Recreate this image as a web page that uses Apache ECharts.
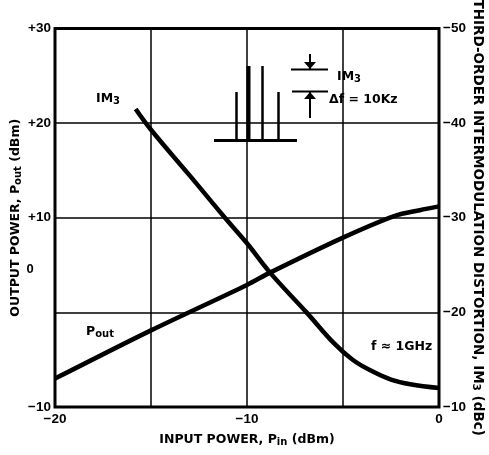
<!DOCTYPE html>
<html><head><meta charset="utf-8">
<script src="https://cdn.jsdelivr.net/npm/echarts@6/dist/echarts.min.js"></script>
<style>html,body{margin:0;padding:0;background:#fff}#c{width:489px;height:455px}</style>
</head><body><div id="c"></div>
<script>
// Input power Pin (dBm) and Pout (dBm), left axis
const poutPin = [-20, -15, -10, -8.8, -5, -2.3, -1, 0];
const poutVal = [-7.0, -1.9, 2.9, 4.2, 7.9, 10.2, 10.8, 11.2];
// IM3 (dBc), right axis (inverted)
const im3Pin = [-15.8, -15, -13, -11.15, -10, -8.8, -6.9, -5.5, -4.5, -3.5, -2.5, -1.5, 0];
const im3Val = [-41.5, -39.3, -34.5, -30, -27.3, -24.2, -20, -16.8, -15.0, -13.8, -12.9, -12.4, -12.0];
const xTicks = [-20, -10, 0];
const leftTicks = [-10, 0, 10, 20, 30];
const rightTicks = [-50, -40, -30, -20, -10];

const FONT = 'Liberation Sans';
const NFONT = 'DejaVu Sans';
const neg = v => (v < 0 ? '\u2212' + Math.abs(v) : String(v));
const chart = echarts.init(document.getElementById('c'), null, {renderer: 'canvas'});
const labelStyle = {color: '#000', fontFamily: FONT, fontWeight: 'bold', fontSize: 13.5};
const subRich = {
  b: {fontFamily: NFONT, fontWeight: 'bold', fontSize: 12.5, color: '#000'},
  s: {fontFamily: NFONT, fontWeight: 'bold', fontSize: 10, color: '#000', verticalAlign: 'bottom', padding: [4, 0, 0, 0]}
};
const rightRich = {
  b: {fontFamily: NFONT, fontWeight: 'bold', fontSize: 13.5, color: '#000'},
  s: {fontFamily: NFONT, fontWeight: 'bold', fontSize: 10.5, color: '#000', verticalAlign: 'bottom', padding: [4, 0, 0, 0]}
};
const txt = (x, y, str, extra) => Object.assign({
  type: 'text', x: x, y: y,
  style: Object.assign({text: str, fill: '#000', font: 'bold 12.5px "' + NFONT + '"', rich: subRich}, extra || {})
});
const ln = (x1, y1, x2, y2, w) => ({type: 'line', shape: {x1, y1, x2, y2}, style: {stroke: '#000', lineWidth: w || 2}});

chart.setOption({
  animation: false,
  backgroundColor: '#fff',
  grid: {left: 55, right: 50, top: 28.5, bottom: 48, show: true, borderColor: '#000', borderWidth: 3,
         backgroundColor: 'transparent', containLabel: false, outerBoundsMode: 'none'},
  xAxis: {
    type: 'value', min: -20, max: 0, interval: 5,
    name: '{b|INPUT POWER, P}{s|in}{b| (dBm)}', nameLocation: 'middle', nameGap: 26,
    nameTextStyle: {rich: subRich},
    axisLine: {show: false}, axisTick: {show: false},
    axisLabel: Object.assign({margin: 5, formatter: v => (xTicks.includes(v) ? neg(v) : '')}, labelStyle),
    splitLine: {show: true, lineStyle: {color: '#000', width: 1.5}}
  },
  yAxis: [{
    type: 'value', min: -10, max: 30, interval: 10, position: 'left',
    name: '{b|OUTPUT POWER, P}{s|out}{b| (dBm)}', nameLocation: 'middle', nameGap: 32, nameRotate: 90,
    nameMoveOverlap: false,
    nameTextStyle: {rich: subRich},
    axisLine: {show: false}, axisTick: {show: false},
    axisLabel: Object.assign({margin: 4, formatter: v => (!leftTicks.includes(v) || v === 0 ? '' : (v > 0 ? '+' + v : neg(v)))}, labelStyle),
    splitLine: {show: true, lineStyle: {color: '#000', width: 1.5}}
  }, {
    type: 'value', min: -50, max: -10, interval: 10, position: 'right', inverse: true,
    name: '{b|THIRD-ORDER INTERMODULATION DISTORTION, IM}{s|3}{b| (dBc)}', nameLocation: 'middle', nameGap: 31, nameRotate: -90,
    nameMoveOverlap: false,
    nameTextStyle: {rich: rightRich},
    axisLine: {show: false}, axisTick: {show: false},
    axisLabel: Object.assign({margin: 4, formatter: v => (rightTicks.includes(v) ? neg(v) : '')}, labelStyle),
    splitLine: {show: false}
  }],
  series: [{
    type: 'line', yAxisIndex: 0, smooth: 0.3, showSymbol: false,
    lineStyle: {color: '#000', width: 4.5},
    data: poutPin.map((p, i) => [p, poutVal[i]])
  }, {
    type: 'line', yAxisIndex: 1, smooth: 0.4, showSymbol: false,
    lineStyle: {color: '#000', width: 4.5},
    data: im3Pin.map((p, i) => [p, im3Val[i]])
  }],
  graphic: [
    // misplaced "0" label on left
    txt(30, 269, '0', {font: 'bold 13px "' + FONT + '"', rotation: Math.PI / 2, textAlign: 'center', textVerticalAlign: 'middle', align: 'center', verticalAlign: 'middle'}),
    // curve labels
    txt(96, 92, '{b|IM}{s|3}', {}),
    txt(86, 325, '{b|P}{s|out}', {}),
    txt(371, 340, 'f \u2248 1GHz', {}),
    // inset spectrum
    ln(214, 140.5, 297, 140.5, 3),
    ln(236.5, 140, 236.5, 92, 2.5),
    ln(248.5, 140, 248.5, 66, 4),
    ln(262.5, 140, 262.5, 66, 2.5),
    ln(278.5, 140, 278.5, 92, 2.5),
    ln(291, 69.5, 328, 69.5, 2),
    ln(292, 91.5, 328, 91.5, 2),
    ln(310, 54, 310, 69, 2),
    ln(310, 92, 310, 118, 2),
    {type: 'polygon', shape: {points: [[304, 62], [316, 62], [310, 69]]}, style: {fill: '#000'}},
    {type: 'polygon', shape: {points: [[304, 99], [316, 99], [310, 92]]}, style: {fill: '#000'}},
    txt(337, 70, '{b|IM}{s|3}', {}),
    txt(329, 93, '\u0394f = 10Kz', {})
  ]
});
</script></body></html>
